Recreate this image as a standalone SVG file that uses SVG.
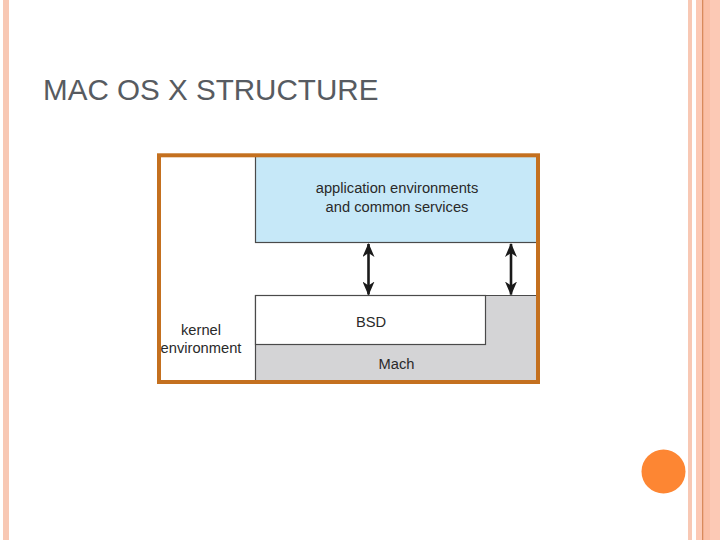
<svg xmlns="http://www.w3.org/2000/svg" width="720" height="540" viewBox="0 0 720 540">
<defs>
<style>
.t{font-family:"Liberation Sans",Arial,sans-serif;fill:#2a2a2a;text-anchor:middle;font-size:14.7px}
.box{stroke:#4a4a4a;stroke-width:1.2}
.conn{stroke:#1a1a1a;stroke-width:2.6;fill:none}
</style>
<marker id="ah" viewBox="0 0 14 12" refX="13" refY="6" markerWidth="14" markerHeight="12" markerUnits="userSpaceOnUse" orient="auto-start-reverse">
<path d="M0,0 L14,6 L0,12 L4,6 z" fill="#1a1a1a"/>
</marker>
<clipPath id="inner"><rect x="161" y="157" width="375" height="223"/></clipPath>
</defs>
<rect width="720" height="540" fill="#ffffff"/>
<g id="decor">
<rect x="3" y="0" width="6" height="540" fill="#f8c8b4"/>
<rect x="688" y="0" width="4" height="540" fill="#f8c8b4"/>
<rect x="696" y="0" width="24" height="540" fill="#fcc9b5"/>
<rect x="703" y="0" width="7" height="540" fill="#fbbfa6"/>
<rect x="702" y="0" width="1.3" height="540" fill="#d98a5c"/>
<circle cx="663.5" cy="471.5" r="22" fill="#fd8633"/>
</g>
<text id="title" x="43" y="100" font-family="Liberation Sans, Arial, sans-serif" font-size="29.6" fill="#575b61">MAC OS X STRUCTURE</text>
<g clip-path="url(#inner)">
<g id="kernel">
<text class="t" x="201" y="335">kernel</text>
<text class="t" x="201" y="353">environment</text>
</g>
<g id="mach">
<path class="box" d="M255.5,295.5 H537 V381 H255.5 Z" fill="#d4d4d6"/>
<text class="t" x="396.5" y="369">Mach</text>
</g>
<g id="bsd">
<rect class="box" x="255.5" y="295.5" width="230" height="49" fill="#ffffff"/>
<text class="t" x="371" y="327">BSD</text>
</g>
<g id="app">
<rect class="box" x="255.5" y="155" width="283" height="87.5" fill="#c6e8f8"/>
<text class="t" x="397" y="193">application environments</text>
<text class="t" x="397" y="212">and common services</text>
</g>
</g>
<g id="connectors">
<line class="conn" x1="368.5" y1="244" x2="368.5" y2="294.5" marker-start="url(#ah)" marker-end="url(#ah)"/>
<line class="conn" x1="511" y1="244" x2="511" y2="294.5" marker-start="url(#ah)" marker-end="url(#ah)"/>
</g>
<rect id="frame" x="159" y="155.3" width="379" height="226.7" fill="none" stroke="#c4701f" stroke-width="4"/>
</svg>
